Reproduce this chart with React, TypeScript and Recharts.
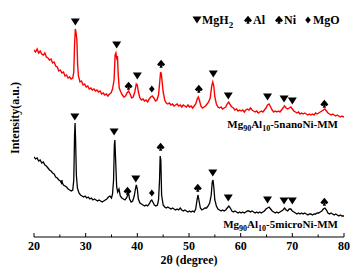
import React from 'react';
import { ComposedChart, Line, Scatter, XAxis, YAxis, Customized } from 'recharts';

// 2θ (degree) and intensity (a.u.)
const nanoNiPattern = [
  [20.0, 187], [20.3, 185], [20.6, 188], [20.9, 184], [21.2, 186], [21.5, 183], [21.8, 182], [22.1, 184],
  [22.4, 180], [22.7, 179], [23.0, 177], [23.3, 178], [23.6, 174], [23.9, 175], [24.2, 171], [24.5, 170],
  [24.8, 166], [25.1, 167], [25.4, 164], [25.7, 165], [26.0, 161], [26.3, 162], [26.6, 159], [26.9, 160],
  [27.2, 158], [27.5, 159], [27.7, 165], [27.85, 192], [28.0, 208], [28.15, 204], [28.3, 197], [28.45, 172],
  [28.6, 161], [28.9, 155], [29.2, 156], [29.5, 152], [29.8, 153], [30.1, 150], [30.4, 151], [30.7, 148],
  [31.0, 149], [31.3, 147], [31.6, 148], [31.9, 146], [32.2, 147], [32.5, 145], [32.8, 146], [33.1, 143],
  [33.4, 144], [33.7, 142], [34.0, 143], [34.3, 141], [34.6, 143], [34.9, 144], [35.2, 148], [35.5, 157],
  [35.7, 182], [35.85, 184], [36.0, 179], [36.15, 181], [36.3, 162], [36.5, 149], [36.8, 145], [37.1, 142],
  [37.4, 140], [37.7, 141], [38.0, 144], [38.3, 146], [38.6, 143], [38.9, 139], [39.2, 140], [39.5, 145],
  [39.8, 153], [40.0, 152], [40.2, 145], [40.5, 139], [40.8, 137], [41.1, 138], [41.4, 136], [41.7, 137],
  [42.0, 135], [42.3, 138], [42.6, 140], [42.9, 141], [43.2, 139], [43.5, 136], [43.8, 137], [44.1, 142],
  [44.3, 153], [44.5, 165], [44.65, 163], [44.8, 155], [45.0, 145], [45.3, 137], [45.6, 134], [45.9, 133],
  [46.2, 134], [46.5, 132], [46.8, 133], [47.1, 131], [47.4, 132], [47.7, 133], [48.0, 131], [48.3, 132],
  [48.6, 130], [48.9, 132], [49.2, 131], [49.5, 130], [49.8, 132], [50.1, 130], [50.4, 131], [50.7, 129],
  [51.0, 131], [51.3, 133], [51.6, 138], [51.8, 140], [52.0, 137], [52.3, 131], [52.6, 129], [52.9, 130],
  [53.2, 131], [53.5, 133], [53.8, 135], [54.1, 139], [54.4, 151], [54.6, 155], [54.8, 151], [55.0, 140],
  [55.3, 133], [55.6, 130], [55.9, 129], [56.2, 130], [56.5, 128], [56.8, 129], [57.1, 130], [57.4, 133],
  [57.7, 135], [58.0, 132], [58.3, 130], [58.6, 129], [58.9, 127], [59.2, 128], [59.5, 126], [59.8, 127],
  [60.1, 126], [60.4, 127], [60.7, 125], [61.0, 127], [61.3, 128], [61.6, 127], [61.9, 129], [62.2, 127],
  [62.5, 126], [62.8, 125], [63.1, 126], [63.4, 124], [63.7, 125], [64.0, 126], [64.3, 125], [64.6, 127],
  [64.9, 129], [65.2, 132], [65.5, 133], [65.8, 130], [66.1, 127], [66.4, 125], [66.7, 126], [67.0, 125],
  [67.3, 126], [67.6, 125], [67.9, 127], [68.2, 129], [68.5, 131], [68.8, 129], [69.1, 128], [69.4, 129],
  [69.7, 130], [70.0, 128], [70.3, 126], [70.6, 125], [70.9, 124], [71.2, 125], [71.5, 123], [71.8, 124],
  [72.1, 123], [72.4, 124], [72.7, 123], [73.0, 122], [73.3, 123], [73.6, 122], [73.9, 123], [74.2, 122],
  [74.5, 124], [74.8, 123], [75.1, 124], [75.4, 125], [75.7, 126], [76.0, 127], [76.3, 128], [76.6, 126],
  [76.9, 124], [77.2, 123], [77.5, 122], [77.8, 123], [78.1, 122], [78.4, 121], [78.7, 122], [79.0, 121],
  [79.3, 120], [79.6, 121], [80.0, 120],
];

const microNiPattern = [
  [20.0, 80], [20.3, 78], [20.6, 79], [20.9, 76], [21.2, 77], [21.5, 74], [21.8, 75], [22.1, 72],
  [22.4, 71], [22.7, 69], [23.0, 67], [23.3, 66], [23.6, 64], [23.9, 63], [24.2, 60], [24.5, 59],
  [24.8, 57], [25.1, 56], [25.3, 54], [25.4, 57], [25.5, 54], [25.7, 52], [26.0, 51], [26.3, 50],
  [26.6, 48], [26.9, 47], [27.2, 46], [27.5, 47], [27.7, 57], [27.85, 102], [27.95, 114], [28.05, 97],
  [28.2, 62], [28.4, 49], [28.7, 44], [29.0, 42], [29.3, 41], [29.6, 40], [29.9, 41], [30.2, 39],
  [30.5, 40], [30.8, 38], [31.1, 39], [31.4, 37], [31.7, 38], [32.0, 37], [32.3, 36], [32.6, 37],
  [32.9, 36], [33.2, 35], [33.5, 36], [33.8, 37], [34.1, 38], [34.4, 40], [34.7, 41], [35.0, 39],
  [35.2, 43], [35.4, 57], [35.55, 92], [35.65, 97], [35.8, 77], [36.0, 50], [36.2, 45], [36.45, 48],
  [36.7, 41], [37.0, 39], [37.3, 38], [37.6, 37], [37.9, 39], [38.15, 42], [38.3, 44], [38.5, 38],
  [38.8, 35], [39.1, 36], [39.4, 41], [39.6, 47], [39.8, 52], [40.0, 48], [40.2, 38], [40.5, 34],
  [40.8, 33], [41.1, 32], [41.4, 31], [41.7, 32], [42.0, 31], [42.3, 33], [42.6, 36], [42.8, 37],
  [43.0, 35], [43.3, 32], [43.6, 31], [43.9, 32], [44.1, 37], [44.3, 57], [44.42, 81], [44.55, 77],
  [44.7, 42], [45.0, 32], [45.3, 30], [45.6, 29], [45.9, 30], [46.2, 29], [46.5, 28], [46.8, 29],
  [47.1, 28], [47.4, 27], [47.7, 28], [48.0, 27], [48.3, 29], [48.6, 27], [48.9, 26], [49.2, 27],
  [49.5, 26], [49.8, 25], [50.1, 26], [50.4, 25], [50.7, 26], [51.0, 25], [51.3, 28], [51.55, 37],
  [51.75, 42], [51.95, 36], [52.2, 29], [52.5, 27], [52.8, 28], [53.1, 29], [53.4, 29], [53.7, 31],
  [54.0, 34], [54.3, 42], [54.5, 55], [54.65, 57], [54.8, 50], [55.0, 37], [55.3, 31], [55.6, 28],
  [55.9, 27], [56.2, 26], [56.5, 27], [56.8, 26], [57.1, 27], [57.4, 29], [57.7, 31], [58.0, 29],
  [58.3, 26], [58.6, 25], [58.9, 26], [59.2, 25], [59.5, 24], [59.8, 25], [60.1, 24], [60.4, 25],
  [60.7, 24], [61.0, 25], [61.3, 26], [61.6, 26], [61.9, 25], [62.2, 26], [62.5, 25], [62.8, 24],
  [63.1, 25], [63.4, 24], [63.7, 25], [64.0, 24], [64.3, 25], [64.6, 26], [64.9, 28], [65.2, 29],
  [65.5, 30], [65.8, 28], [66.1, 26], [66.4, 25], [66.7, 24], [67.0, 25], [67.3, 24], [67.6, 25],
  [67.9, 26], [68.2, 27], [68.5, 29], [68.8, 27], [69.1, 26], [69.4, 28], [69.7, 28], [70.0, 26],
  [70.3, 25], [70.6, 24], [70.9, 23], [71.2, 24], [71.5, 23], [71.8, 24], [72.1, 23], [72.4, 24],
  [72.7, 23], [73.0, 22], [73.3, 23], [73.6, 23], [73.9, 22], [74.2, 23], [74.5, 23], [74.8, 24],
  [75.1, 24], [75.4, 25], [75.7, 26], [76.0, 28], [76.3, 29], [76.6, 27], [76.9, 24], [77.2, 23],
  [77.5, 24], [77.8, 23], [78.1, 22], [78.4, 23], [78.7, 22], [79.0, 21], [79.3, 22], [79.6, 21],
  [80.0, 21],
];

// phase markers above the peaks
const nanoNiPeaks = [
  { x: 28.0, y: 215, phase: 'MgH2' }, { x: 36.0, y: 192, phase: 'MgH2' }, { x: 38.3, y: 151, phase: 'Al' },
  { x: 40.0, y: 161, phase: 'MgH2' }, { x: 42.8, y: 148, phase: 'MgO' }, { x: 44.6, y: 173, phase: 'Ni' },
  { x: 51.9, y: 148, phase: 'Ni' }, { x: 54.7, y: 163, phase: 'MgH2' }, { x: 57.6, y: 141, phase: 'MgH2' },
  { x: 65.2, y: 140, phase: 'MgH2' }, { x: 68.4, y: 138, phase: 'MgH2' }, { x: 70.0, y: 136, phase: 'MgH2' },
  { x: 76.2, y: 133, phase: 'Ni' },
];

const microNiPeaks = [
  { x: 27.9, y: 120, phase: 'MgH2' }, { x: 35.5, y: 105, phase: 'MgH2' }, { x: 38.1, y: 46, phase: 'Al' },
  { x: 39.7, y: 58, phase: 'MgH2' }, { x: 42.8, y: 44, phase: 'MgO' }, { x: 44.5, y: 90, phase: 'Ni' },
  { x: 51.7, y: 49, phase: 'Ni' }, { x: 54.6, y: 64, phase: 'MgH2' }, { x: 57.6, y: 39, phase: 'MgH2' },
  { x: 65.2, y: 37, phase: 'MgH2' }, { x: 68.4, y: 36, phase: 'MgH2' }, { x: 70.0, y: 36, phase: 'MgH2' },
  { x: 76.2, y: 35, phase: 'Ni' },
];

const xTicks = [20, 25, 30, 35, 40, 45, 50, 55, 60, 65, 70, 75, 80];

const FONT = '"Liberation Serif", "Times New Roman", serif';

const toPoints = (rows: number[][]) => rows.map(([x, y]) => ({ x, y }));

const markerPath = (phase: string, cx: number, cy: number) => {
  if (phase === 'MgH2') {
    return `M${cx - 4.5},${cy - 3.5}L${cx + 4.5},${cy - 3.5}L${cx},${cy + 3.5}Z`;
  }
  if (phase === 'MgO') {
    return `M${cx},${cy - 3.5}L${cx + 2.8},${cy}L${cx},${cy + 3.5}L${cx - 2.8},${cy}Z`;
  }
  return `M${cx},${cy - 4.2}L${cx + 4},${cy + 0.6}L${cx + 2.2},${cy + 2.2}L${cx + 0.8},${cy + 1.3}L${cx + 1.6},${cy + 3.8}L${cx - 1.6},${cy + 3.8}L${cx - 0.8},${cy + 1.3}L${cx - 2.2},${cy + 2.2}L${cx - 4},${cy + 0.6}Z`;
};

const PeakMarker = (props: any) => {
  const { cx, cy, payload } = props;
  if (cx == null || cy == null) return null;
  return <path d={markerPath(payload.phase, cx, cy)} fill="#000" />;
};

const XTick = (props: any) => {
  const { x, y, payload } = props;
  const major = payload.value % 10 === 0;
  return (
    <g>
      <line x1={x} x2={x} y1={y} y2={y - (major ? 4 : 2.5)} stroke="#000" />
      {major && (
        <text x={x} y={y + 12.5} textAnchor="middle" fontFamily={FONT} fontWeight="bold" fontSize={12} fill="#000">
          {payload.value}
        </text>
      )}
    </g>
  );
};

const textProps = { fontFamily: FONT, fontWeight: 'bold' as const, fill: '#000' };

const Annotations = () => (
  <g>
    {/* legend */}
    <path d={markerPath('MgH2', 197, 20)} fill="#000" />
    <text x={202} y={24} fontSize={12} {...textProps}>
      MgH<tspan fontSize={9} dy={4}>2</tspan>
    </text>
    <path d={markerPath('Al', 248, 20)} fill="#000" />
    <text x={253} y={24} fontSize={12} {...textProps}>Al</text>
    <path d={markerPath('Ni', 279, 20)} fill="#000" />
    <text x={284} y={24} fontSize={12} {...textProps}>Ni</text>
    <path d={markerPath('MgO', 308, 20)} fill="#000" />
    <text x={313} y={24} fontSize={12} {...textProps}>MgO</text>

    {/* sample names */}
    <text x={338} y={128} textAnchor="end" fontSize={11} {...textProps}>
      Mg<tspan fontSize={8} dy={3}>90</tspan>
      <tspan dy={-3}>Al</tspan>
      <tspan fontSize={8} dy={3}>10</tspan>
      <tspan dy={-3}>-5nanoNi-MM</tspan>
    </text>
    <text x={338} y={228} textAnchor="end" fontSize={11} {...textProps}>
      Mg<tspan fontSize={8} dy={3}>90</tspan>
      <tspan dy={-3}>Al</tspan>
      <tspan fontSize={8} dy={3}>10</tspan>
      <tspan dy={-3}>-5microNi-MM</tspan>
    </text>

    {/* axis titles */}
    <text x={189} y={264} textAnchor="middle" fontSize={12} {...textProps}>2θ (degree)</text>
    <text x={19} y={118} textAnchor="middle" fontSize={12} transform="rotate(-90 19 118)" {...textProps}>
      Intensity(a.u.)
    </text>
  </g>
);

export default function App() {
  return (
    <div style={{ position: 'absolute', left: 0, top: 0 }}>
      <ComposedChart width={361} height={278} margin={{ top: 12, right: 17, bottom: 0, left: 34 }}>
        <XAxis
          dataKey="x"
          type="number"
          domain={[20, 80]}
          ticks={xTicks}
          interval={0}
          allowDataOverflow
          height={41}
          tickSize={0}
          tickMargin={0}
          tickLine={false}
          tick={<XTick />}
          axisLine={{ stroke: '#000' }}
        />
        <XAxis xAxisId="top" orientation="top" type="number" domain={[20, 80]} height={0} tick={false} tickLine={false} axisLine={{ stroke: '#000' }} />
        <YAxis type="number" domain={[0, 225]} allowDataOverflow width={0} tick={false} tickLine={false} axisLine={{ stroke: '#000' }} />
        <YAxis yAxisId="right" orientation="right" type="number" domain={[0, 225]} width={0} tick={false} tickLine={false} axisLine={{ stroke: '#000' }} />
        <Line data={toPoints(nanoNiPattern)} dataKey="y" stroke="#ff0000" strokeWidth={1.4} dot={false} isAnimationActive={false} />
        <Line data={toPoints(microNiPattern)} dataKey="y" stroke="#000" strokeWidth={1.3} dot={false} isAnimationActive={false} />
        <Scatter data={nanoNiPeaks} dataKey="y" shape={<PeakMarker />} isAnimationActive={false} />
        <Scatter data={microNiPeaks} dataKey="y" shape={<PeakMarker />} isAnimationActive={false} />
        <Customized component={Annotations} />
      </ComposedChart>
    </div>
  );
}
